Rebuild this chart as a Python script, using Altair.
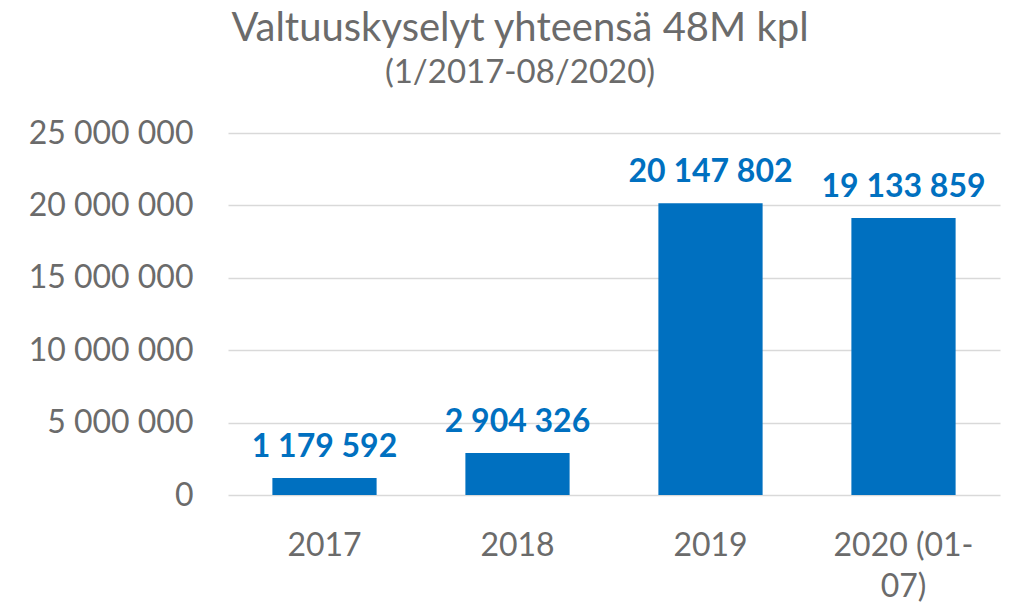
import altair as alt
import pandas as pd

categories = ["2017", "2018", "2019", "2020 (01-07)"]
values = [1179592, 2904326, 20147802, 19133859]
y_ticks = [0, 5000000, 10000000, 15000000, 20000000, 25000000]

df = pd.DataFrame({"cat": categories, "val": values})

FONT = "Lato"
GRAY = "#6b6b6b"
BLUE = "#0070C0"

space_fmt = "replace(format(datum.value, ','), /,/g, ' ')"

base = alt.Chart(df).encode(
    x=alt.X(
        "cat:N",
        sort=categories,
        title=None,
        scale=alt.Scale(paddingInner=0.46, paddingOuter=0.23),
        axis=alt.Axis(
            labelAngle=0,
            labelFontSize=32,
            labelColor=GRAY,
            labelFont=FONT,
            labelPadding=35,
            labelLineHeight=41,
            labelBaseline="top",
            domain=False,
            ticks=False,
            grid=False,
            labelExpr="datum.label == '2020 (01-07)' ? ['2020 (01-', '07)'] : datum.label",
        ),
    ),
    y=alt.Y(
        "val:Q",
        title=None,
        scale=alt.Scale(domain=[0, 25000000]),
        axis=alt.Axis(
            values=y_ticks,
            labelFontSize=32,
            labelColor=GRAY,
            labelFont=FONT,
            labelPadding=35,
            domain=False,
            ticks=False,
            gridColor="#d9d9d9",
            gridWidth=1.5,
            labelExpr=space_fmt,
        ),
    ),
)

bars = base.mark_bar(color=BLUE)
labels = base.mark_text(
    color=BLUE, fontSize=32, fontWeight="bold", font=FONT, baseline="alphabetic", dy=-21
).encode(text=alt.Text("lbl:N")).transform_calculate(
    lbl="replace(format(datum.val, ','), /,/g, ' ')"
)

chart = (
    (bars + labels)
    .properties(
        width=772,
        height=362,
        background="white",
        padding={"left": 220, "top": 125, "right": 4, "bottom": 110},
        autosize=alt.AutoSizeParams(type="none"),
        title=alt.Title(
            "Valtuuskyselyt yhteensä 48M kpl",
            subtitle="(1/2017-08/2020)",
            fontSize=40,
            subtitleFontSize=33,
            font=FONT,
            subtitleFont=FONT,
            fontWeight="normal",
            color=GRAY,
            subtitleColor=GRAY,
            anchor="middle",
            dx=-94,
            offset=27,
            subtitlePadding=8,
        ),
    )
    .configure_view(stroke=None, strokeWidth=0)
)

chart.save("out.html", embed_options={"renderer": "svg", "actions": False})
